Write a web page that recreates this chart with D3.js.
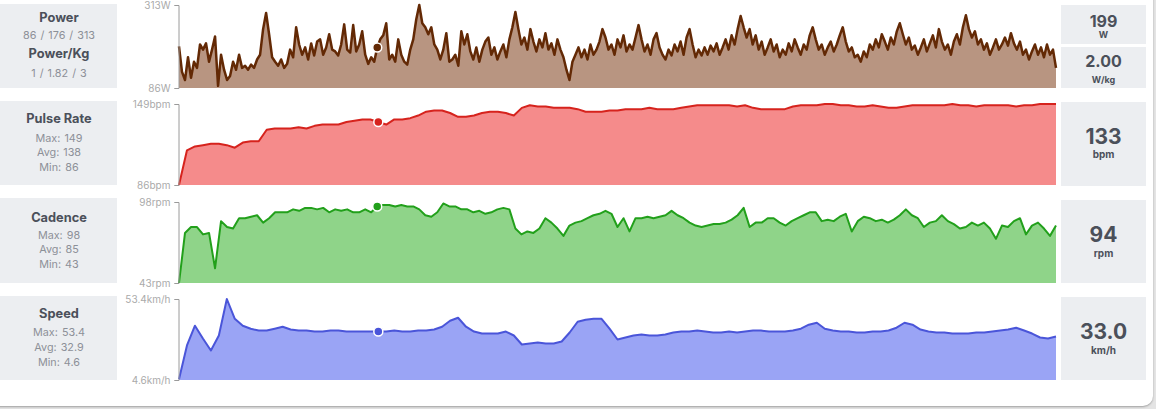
<!DOCTYPE html>
<html>
<head>
<meta charset="utf-8">
<script src="https://cdn.jsdelivr.net/npm/d3@7"></script>
<style>
  body { margin: 0; background: #e4e4e4; overflow: hidden; }
  #card { position: absolute; left: -12px; top: -12px; width: 1165px; height: 418px;
          background: #fff; border-radius: 10px; box-shadow: 0 1px 2px rgba(0,0,0,0.3); }
  #chart { position: absolute; left: 0; top: 0; }
  text { font-family: Inter, "Open Sans", sans-serif; }
</style>
</head>
<body>
<div id="card"></div>
<svg id="chart" width="1156" height="409"></svg>
<script>
// values (evenly spaced samples)
var power = [
  200,130,108,170,114,158,141,205,191,208,
  158,191,227,92,177,136,108,119,158,136,
  177,141,147,136,150,141,164,177,247,291,
  233,170,158,147,164,141,152,191,170,252,
  205,177,197,164,208,175,213,219,177,197,
  233,191,186,175,205,260,191,183,258,186,
  205,241,177,152,170,158,197,219,230,263,
  164,177,158,219,177,158,150,191,219,274,
  313,263,252,233,252,205,191,164,191,236,
  158,164,177,147,241,205,233,186,
  164,197,158,191,213,224,177,197,164,186,
  205,170,219,252,294,247,205,224,191,247,
  213,186,219,197,236,191,208,177,219,191,
  170,136,108,158,177,197,170,191,164,205,
  177,191,213,247,224,191,205,177,219,197,
  230,186,205,191,224,258,219,186,205,177,
  219,236,197,177,164,191,175,205,186,213,
  177,224,247,205,170,191,175,197,177,202,
  186,208,177,197,219,191,230,205,247,283,
  252,224,247,205,230,191,213,177,197,219,
  186,205,170,191,177,208,186,219,197,177,
  205,191,230,252,219,191,205,177,197,213,
  186,205,230,252,213,186,197,170,177,158,
  186,170,205,191,219,197,233,213,191,224,
  205,241,263,233,205,224,191,202,177,197,
  219,186,208,230,197,247,213,191,205,177,
  213,233,205,252,285,247,224,241,205,219,
  191,208,177,197,219,191,205,224,202,236,
  208,191,213,177,191,164,186,205,177,197,
  170,205,177,191,141
];

var pulse = [
  86,113,116,117,118,118,117,115,119,120,
  120,129,130,130,130,131,130,132,133,133,
  133,135,136,137,137,135,133,137,137,138,
  140,143,144,144,142,139,139,140,142,143,
  143,142,140,146,148,147,147,146,146,146,
  145,143,143,143,144,144,145,145,145,146,
  145,145,145,146,147,148,148,148,148,148,
  147,148,146,145,145,145,145,147,148,148,
  148,149,149,148,148,147,147,148,147,146,
  146,147,148,148,148,148,148,149,148,148,
  147,148,148,148,148,147,148,148,149,149,
  149
];

var cadence = [
  43,77,81,81,76,77,53,85,81,80,
  87,87,88,89,84,87,91,91,91,93,
  92,94,94,93,94,91,93,92,93,91,
  91,93,91,95,96,96,95,96,95,95,
  93,89,88,91,97,95,95,93,93,91,
  92,90,91,93,94,93,80,76,78,77,
  80,87,84,80,75,82,84,85,87,89,
  90,92,90,81,87,78,87,87,88,87,
  88,89,92,89,87,84,82,81,82,83,
  83,84,86,89,94,81,84,84,87,87,
  84,82,85,87,89,91,91,85,86,85,
  88,90,78,85,88,87,85,86,84,86,
  89,93,89,87,81,84,85,89,85,83,
  80,81,84,82,84,80,73,82,81,85,
  87,76,82,84,80,75,82
];

var speed = [
  5,25.4,37.3,29.6,22.4,31.4,53.4,41.5,37.3,35.5,
  34.4,34.4,35.5,36.7,35,34.4,34.4,33.8,33.8,34.4,
  34.4,33.8,33.8,33.8,33.8,33.8,33.8,34.4,33.8,33.8,
  34.4,34.4,35,36.7,40.3,42.1,36.7,33.8,32.6,32.6,
  32.6,33.8,31.4,26,26.6,27.2,26.6,26.6,27.8,33.2,
  39.7,40.9,41.5,41.5,35.5,29,30.2,31.4,32,31.4,
  31.4,32,33.2,33.8,33.8,34.4,33.8,33.2,33.2,33.8,
  33.2,33.8,34.4,34.4,33.8,33.8,33.8,34.4,35.5,37.9,
  39.1,35.5,34.4,33.8,33.8,33.2,33.2,33.8,33.8,34.4,
  36.1,39.1,37.9,35,33.8,33.2,33.2,32.6,32.6,32.6,
  33.2,33.2,33.8,34.4,35,36.1,34.4,32.6,30.2,29.6,
  30.8
];

var axisMin = [86, 86, 43, 4.6];
var axisMax = [313, 149, 98, 53.4];
var axisUnits = ["W", "bpm", "rpm", "km/h"];
var cursorPos = 0.226;

var titles = [["Power", "Power/Kg"], ["Pulse Rate"], ["Cadence"], ["Speed"]];
var statLines = [
  ["86 / 176 / 313", "1 / 1.82 / 3"],
  ["Max: 149", "Avg: 138", "Min: 86"],
  ["Max: 98", "Avg: 85", "Min: 43"],
  ["Max: 53.4", "Avg: 32.9", "Min: 4.6"]
];
var readValues = ["199", "2.00", "133", "94", "33.0"];
var readUnits = ["W", "W/kg", "bpm", "rpm", "km/h"];

// layout
var series = [power, pulse, cadence, speed];
var rows = [
  {top: 5,   bottom: 88,  stroke: "#632905", width: 2.5, fill: "#b89581", box: [4, 88]},
  {top: 104, bottom: 185, stroke: "#d6231d", width: 2, fill: "#f58b8b", box: [101, 185]},
  {top: 202, bottom: 283, stroke: "#22a01b", width: 2, fill: "#8fd489", box: [198, 283]},
  {top: 299, bottom: 380, stroke: "#4a55d9", width: 2, fill: "#9aa4f5", box: [296, 380]}
];
var leftText = [
  [{t: 0, y: 21.5}, {s: 0, y: 38.5}, {t: 1, y: 57.5}, {s: 1, y: 76.5}],
  [{t: 0, y: 123}, {s: 0, y: 141.5}, {s: 1, y: 156}, {s: 2, y: 170.5}],
  [{t: 0, y: 221.5}, {s: 0, y: 238.5}, {s: 1, y: 253}, {s: 2, y: 268}],
  [{t: 0, y: 318}, {s: 0, y: 336}, {s: 1, y: 351}, {s: 2, y: 366}]
];
var rightBoxes = [[5, 44], [47, 88], [102, 186], [200, 283], [297, 380]];
var rightText = [
  {v: 26.5, u: 38, size: 16}, {v: 66.5, u: 83, size: 16},
  {v: 144, u: 158, size: 21}, {v: 241.5, u: 257, size: 21}, {v: 338.5, u: 353.5, size: 21}
];

var svg = d3.select("#chart");
var x0 = 179, x1 = 1056;

rows.forEach(function(r, k) {
  var data = series[k];
  var x = d3.scaleLinear().domain([0, data.length - 1]).range([x0, x1]);
  var y = d3.scaleLinear().domain([axisMin[k], axisMax[k]]).range([r.bottom, r.top]);

  // left summary box
  svg.append("rect").attr("x", 0).attr("y", r.box[0])
    .attr("width", 117).attr("height", r.box[1] - r.box[0]).attr("fill", "#eceef1");
  leftText[k].forEach(function(d) {
    var isTitle = d.t !== undefined;
    svg.append("text").attr("x", 59).attr("y", d.y)
      .attr("text-anchor", "middle")
      .attr("font-size", isTitle ? 12.8 : 10.8)
      .attr("font-weight", isTitle ? 700 : 400)
      .attr("word-spacing", isTitle ? 0 : 1)
      .attr("fill", isTitle ? "#4b505a" : "#8c9098")
      .text(isTitle ? titles[k][d.t] : statLines[k][d.s]);
  });

  var area = d3.area().x(function(d, i) { return x(i); })
    .y0(r.bottom).y1(function(d) { return y(d); });
  var line = d3.line().x(function(d, i) { return x(i); })
    .y(function(d) { return y(d); });

  svg.append("path").datum(data).attr("d", area).attr("fill", r.fill);
  svg.append("path").datum(data).attr("d", line)
    .attr("fill", "none").attr("stroke", r.stroke)
    .attr("stroke-width", r.width).attr("stroke-linejoin", "round");

  var axis = d3.axisLeft(y).tickValues([axisMin[k], axisMax[k]])
    .tickSize(4).tickSizeOuter(4).tickPadding(4)
    .tickFormat(function(d) { return d + axisUnits[k]; });
  var g = svg.append("g").attr("transform", "translate(178.5,0)").call(axis);
  g.select(".domain").attr("stroke", "#9a9a9a");
  g.selectAll(".tick line").attr("stroke", "#9a9a9a");
  g.selectAll(".tick text").attr("fill", "#aaaaaa").attr("font-size", 10)
    .attr("font-family", "Inter, sans-serif");

  // hover cursor
  var ci = Math.round(cursorPos * (data.length - 1));
  svg.append("circle").attr("cx", x(ci)).attr("cy", y(data[ci])).attr("r", 4.5)
    .attr("fill", r.stroke).attr("stroke", "#fff").attr("stroke-width", 1.5);
});

// right readouts
rightBoxes.forEach(function(b, i) {
  svg.append("rect").attr("x", 1061).attr("y", b[0])
    .attr("width", 85).attr("height", b[1] - b[0]).attr("fill", "#eceef1");
  svg.append("text").attr("x", 1103.5).attr("y", rightText[i].v)
    .attr("text-anchor", "middle").attr("font-size", rightText[i].size)
    .attr("font-weight", 700).attr("fill", "#4b505a").text(readValues[i]);
  svg.append("text").attr("x", 1103.5).attr("y", rightText[i].u)
    .attr("text-anchor", "middle").attr("font-size", i < 2 ? 9 : 10)
    .attr("font-weight", 700).attr("fill", "#4b505a").text(readUnits[i]);
});
</script>
</body>
</html>
